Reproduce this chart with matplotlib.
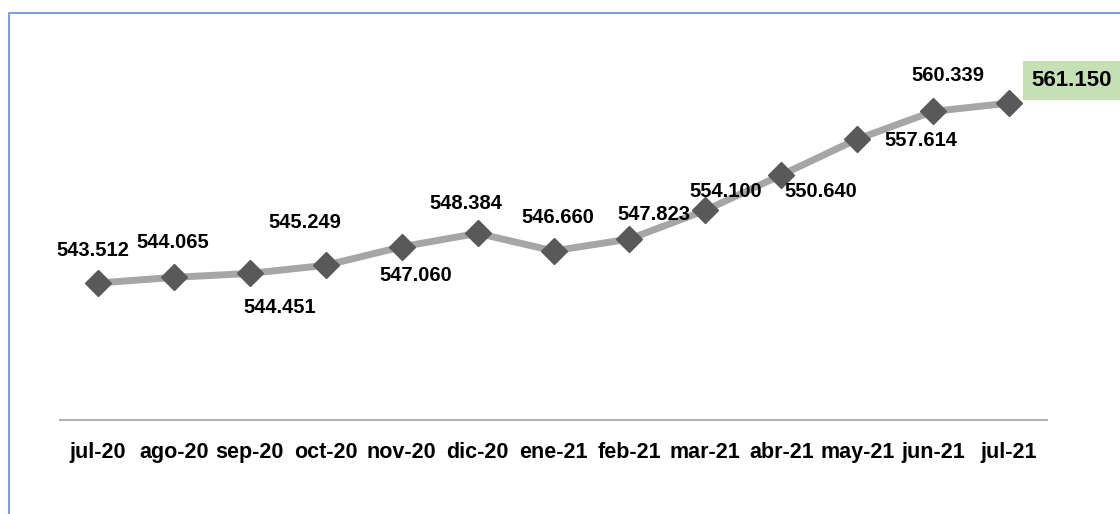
import matplotlib
matplotlib.use("Agg")
import matplotlib.pyplot as plt
from matplotlib.lines import Line2D

months = ["jul-20", "ago-20", "sep-20", "oct-20", "nov-20", "dic-20", "ene-21",
          "feb-21", "mar-21", "abr-21", "may-21", "jun-21", "jul-21"]
values = [543.512, 544.065, 544.451, 545.249, 547.060, 548.384, 546.660,
          547.823, 550.640, 554.100, 557.614, 560.339, 561.150]
labels = ["543.512", "544.065", "544.451", "545.249", "547.060", "548.384", "546.660",
          "547.823", "550.640", "554.100", "557.614", "560.339", "561.150"]
# label offsets in pixels from each point (dx right, dy up), as dragged in the original
offsets = [(-5, 33), (-1, 35), (30, -34), (-21, 43), (14, -29), (-12, 30), (4, 33),
           (24, 25), (115, 19), (-56, -16), (64, -1), (15, 36), (63, 23)]

plt.rcParams["font.family"] = ["Liberation Sans", "DejaVu Sans"]

fig = plt.figure(figsize=(11.2, 5.14), dpi=100)
ax = fig.add_axes([60 / 1120, 94 / 514, 987 / 1120, 400 / 514])

x = list(range(len(months)))
ax.plot(x, values, color="#a6a6a6", lw=5, zorder=2)
ax.plot(x, values, ls="none", marker="D", ms=13, color="#595959", zorder=3)

for i, (lab, (dx, dy)) in enumerate(zip(labels, offsets)):
    last = i == len(labels) - 1
    ax.annotate(lab, (x[i], values[i]), xytext=(dx, dy), textcoords="offset pixels",
                ha="center", va="center", fontsize=16 if last else 14.5,
                fontweight="bold", color="black", annotation_clip=False,
                bbox=dict(boxstyle="square,pad=0.4", fc="#c5e0b4", ec="none") if last else None)

ax.set_xlim(-0.5, len(months) - 0.5)
ax.set_ylim(530.08, 569.3)
ax.set_xticks(x)
ax.set_xticklabels(months, fontsize=15.5, fontweight="bold")
ax.tick_params(axis="x", length=0, pad=16)
ax.set_yticks([])
for s in ["top", "right", "left"]:
    ax.spines[s].set_visible(False)
ax.spines["bottom"].set_color("#b3b3b3")
ax.spines["bottom"].set_linewidth(1.5)

# chart-area border (top and left edges visible)
fig.add_artist(Line2D([9 / 1120, 9 / 1120, 1.0], [0.0, 1 - 13 / 514, 1 - 13 / 514],
                      transform=fig.transFigure, color="#7f9fdc", lw=1.5))

fig.savefig("out.png", dpi=100)
